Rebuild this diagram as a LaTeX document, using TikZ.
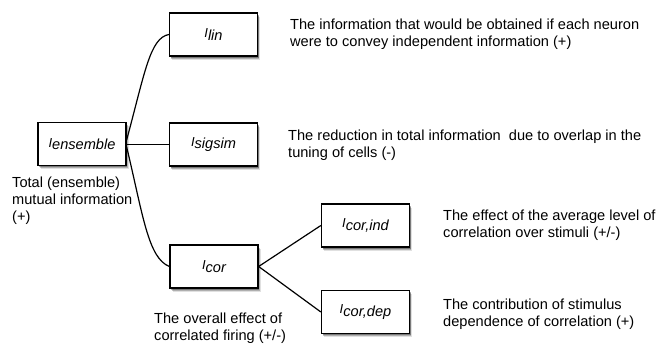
\documentclass[tikz,border=0pt]{standalone}
\usepackage{fontspec}
\setmainfont{Liberation Sans}
\usetikzlibrary{shadows}
\newcommand{\lbl}[1]{{\fontsize{13}{13}\selectfont\itshape I}\raisebox{-2.5pt}{\fontsize{14.6}{15}\selectfont\itshape #1}}
\tikzset{
  box/.style={draw=black, line width=1.3pt, fill=white, minimum width=88pt,
    minimum height=43pt, inner sep=0pt,
    general shadow={shadow xshift=2.5pt, shadow yshift=-4pt, fill=black, opacity=0.12},
    general shadow={shadow xshift=1.8pt, shadow yshift=-2.8pt, fill=black, opacity=0.22},
    general shadow={shadow xshift=1pt, shadow yshift=-1.8pt, fill=black, opacity=0.3}},
  desc/.style={align=left, inner sep=0pt, font=\fontsize{14.6}{16.8}\selectfont},
  link/.style={line width=1.2pt, draw=black}
}
\begin{document}
\begin{tikzpicture}[x=1pt,y=1pt]
\useasboundingbox (0,0) rectangle (657,-344);
% boxes
\node[box] (ens) at (82,-144) {\lbl{ensemble}};
\node[box] (lin) at (213.5,-34.5) {\lbl{lin}};
\node[box] (sig) at (213.5,-144.5) {\lbl{sigsim}};
\node[box] (cor) at (214,-266.5) {\lbl{cor}};
\node[box] (ind) at (365.5,-225.5) {\lbl{cor,ind}};
\node[box] (dep) at (365.5,-312) {\lbl{cor,dep}};
% connectors
\draw[link] ([yshift=4pt]ens.east) .. controls (145,-72) and (150,-38) .. (lin.west);
\draw[link] (ens.east |- sig.west) -- (sig.west);
\draw[link] ([yshift=-3pt]ens.east) .. controls (143,-215) and (148,-258) .. (cor.west);
\draw[link] (cor.east) -- (ind.west);
\draw[link] (cor.east) -- (dep.west);
% descriptions
\node[desc, anchor=west] (tlin) at (290,-34.5) {The information that would be obtained if each neuron\\were to convey independent information (+)};
\node[desc, anchor=west] (tsig) at (288,-145) {The reduction in total information\ \ due to overlap in the\\tuning of cells (-)};
\node[desc, anchor=west] (tind) at (443,-225) {The effect of the average level of\\correlation over stimuli (+/-)};
\node[desc, anchor=west] (tdep) at (443,-314) {The contribution of stimulus\\dependence of correlation (+)};
\node[desc, anchor=north west] (tens) at (12,-177) {Total (ensemble)\\mutual information\\(+)};
\node[desc, anchor=north west] (tcor) at (154,-313) {The overall effect of\\correlated firing (+/-)};
\end{tikzpicture}
\end{document}
